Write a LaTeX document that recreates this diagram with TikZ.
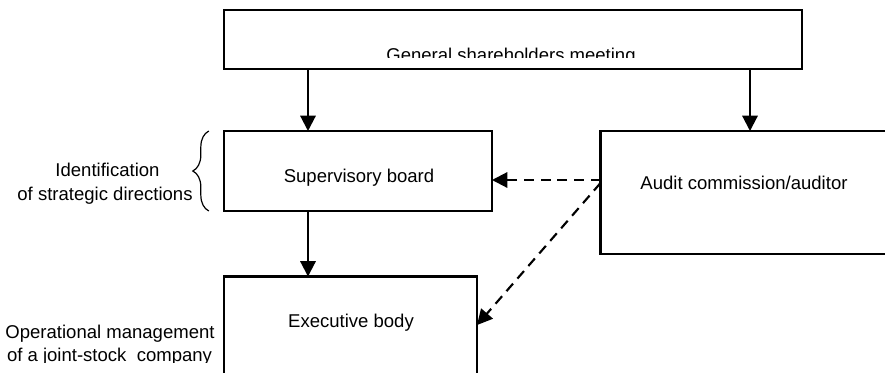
\documentclass[tikz,border=0pt]{standalone}
\usepackage{fontspec}
\setmainfont{Liberation Sans}
\usetikzlibrary{arrows.meta,decorations.pathreplacing}
\tikzset{
  box/.style={draw, line width=1.6pt, inner sep=0pt, outer sep=0pt},
  lbl/.style={inner sep=0pt, anchor=base, font=\fontsize{13.9pt}{17pt}\selectfont},
  arr/.style={line width=1.6pt, -{Triangle[length=11.5pt,width=11.5pt]}},
  darr/.style={arr, dash pattern=on 7.5pt off 5pt},
}
\begin{document}
\begin{tikzpicture}[x=0.75pt,y=-0.75pt]
\useasboundingbox (0,0) rectangle (885,372);
% boxes
\node[box, minimum width=433.5pt, minimum height=44.25pt] (top) at (513,39.5) {};
\node[box, minimum width=201pt, minimum height=60pt] (sup) at (358,171) {};
\node[box, minimum width=269.6pt, minimum height=92.25pt] (audit) at (780.25,192.5) {};
\node[box, minimum width=189.75pt, minimum height=115.1pt] (exec) at (350.5,353.25) {};
% texts
\begin{scope}
\clip (224,10) rectangle (802,57.5);
\node[lbl] (toptxt) at (511,61.3) {General shareholders meeting};
\end{scope}
\node[lbl] (suptxt) at (359,182.7) {Supervisory board};
\node[lbl] (audittxt) at (744,189.5) {Audit commission/auditor};
\node[lbl] (exectxt) at (351,327.5) {Executive body};
\node[lbl] (id1) at (107.5,176.7) {Identification};
\node[lbl] (id2) at (105,200) {of strategic directions};
\node[lbl] (op1) at (110,338.3) {Operational management};
\begin{scope}
\clip (0,340) rectangle (222,362.3);
\node[lbl] (op2) at (109.5,361.6) {of a joint-stock\ \ company};
\end{scope}
% brace
\draw[line width=0.9pt, decorate, decoration={brace, amplitude=12pt}]
  ([xshift=12pt]id2.base east |- sup.south west) coordinate (bb) -- (bb |- sup.north west) coordinate (bt);
% connectors
\draw[arr] ([xshift=63pt]top.south west) -- ([xshift=63pt]sup.north west);
\draw[arr] ([xshift=-39pt]top.south east) -- ([xshift=-39pt]top.south east |- audit.north);
\draw[arr] ([xshift=63pt]sup.south west) -- ([xshift=63pt]exec.north west);
\draw[darr] ([yshift=-36.75pt]audit.north west) -- ([yshift=-36.75pt]sup.north east);
\draw[darr] ([yshift=-39pt]audit.north west) -- ([yshift=-36.4pt]exec.north east);
\end{tikzpicture}
\end{document}
